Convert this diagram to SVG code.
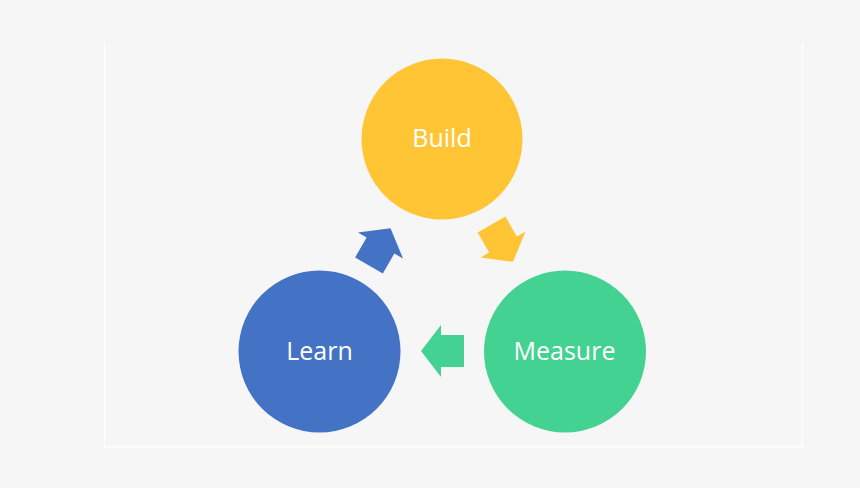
<svg xmlns="http://www.w3.org/2000/svg" width="860" height="488" viewBox="0 0 860 488">
  <defs>
    <style>
      .label { font-family: "Open Sans", "Noto Sans", "Liberation Sans", sans-serif; font-size: 25px; fill: #ffffff; text-anchor: middle; }
      .frame { fill: none; stroke: #ffffff; stroke-width: 1.2; }
    </style>
    <polygon id="arrow" points="20,0 0,-26 0,-16 -23,-16 -23,16 0,16 0,26"/>
  </defs>
  <rect x="0" y="0" width="860" height="488" fill="#f6f6f6"/>
  <path class="frame" d="M104.5,42 V447 H802.5 V42"/>
  <g id="connectors">
    <use href="#arrow" fill="#ffc535" transform="translate(503,244.5) rotate(60)"/>
    <use href="#arrow" fill="#43d291" transform="translate(441,351) rotate(180)"/>
    <use href="#arrow" fill="#4472c4" transform="translate(380.5,245.5) rotate(-60)"/>
  </g>
  <g id="build">
    <circle cx="442" cy="139" r="80.5" fill="#ffc535"/>
    <text class="label" x="442" y="147">Build</text>
  </g>
  <g id="measure">
    <circle cx="565" cy="351.5" r="81" fill="#43d291"/>
    <text class="label" x="564.5" y="359.5">Measure</text>
  </g>
  <g id="learn">
    <circle cx="319.5" cy="351.5" r="81" fill="#4472c4"/>
    <text class="label" x="319.5" y="359.5">Learn</text>
  </g>
</svg>
